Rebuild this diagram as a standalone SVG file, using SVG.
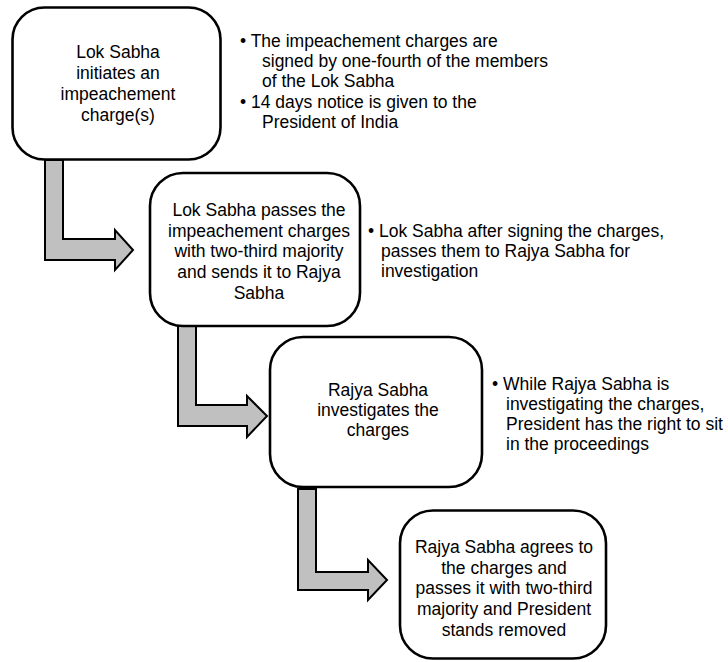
<svg xmlns="http://www.w3.org/2000/svg" width="728" height="662" viewBox="0 0 728 662">
<style>
.box{fill:#fff;stroke:#000;stroke-width:2.6}
.arr{fill:#c0c0c0;stroke:#000;stroke-width:2;stroke-linejoin:miter}
text{font-family:"Liberation Sans",Arial,sans-serif;font-size:17.5px;fill:#000}
.c{text-anchor:middle}
</style>
<rect width="728" height="662" fill="#fff"/>
<g id="connectors">
<polygon class="arr" points="45,160 63,160 63,239 115,239 115,230 133,250 115,270 115,260 45,260"/>
<polygon class="arr" points="178,326 196,326 196,405 247,405 247,396 267,416 247,437 247,426 178,426"/>
<polygon class="arr" points="298,489 316,489 316,572 368,572 368,560 387,580 368,600 368,590 298,590"/>
</g>
<g id="node1">
<rect class="box" x="12.5" y="7.5" width="208" height="152" rx="32"/>
<text class="c" x="118" y="58">Lok Sabha</text>
<text class="c" x="118" y="79">initiates an</text>
<text class="c" x="118" y="100">impeachement</text>
<text class="c" x="118" y="121">charge(s)</text>
</g>
<g id="note1">
<text x="240" y="47">• The impeachement charges are</text>
<text x="262" y="67">signed by one-fourth of the members</text>
<text x="262" y="87">of the Lok Sabha</text>
<text x="240" y="108">• 14 days notice is given to the</text>
<text x="262" y="128">President of India</text>
</g>
<g id="node2">
<rect class="box" x="150" y="173" width="210" height="153" rx="33"/>
<text class="c" x="259" y="216">Lok Sabha passes the</text>
<text class="c" x="259" y="237">impeachement charges</text>
<text class="c" x="259" y="257">with two-third majority</text>
<text class="c" x="259" y="278">and sends it to Rajya</text>
<text class="c" x="259" y="299">Sabha</text>
</g>
<g id="note2">
<text x="368" y="237">• Lok Sabha after signing the charges,</text>
<text x="381" y="257">passes them to Rajya Sabha for</text>
<text x="381" y="277">investigation</text>
</g>
<g id="node3">
<rect class="box" x="270" y="337" width="212" height="150" rx="33"/>
<text class="c" x="378" y="396">Rajya Sabha</text>
<text class="c" x="378" y="416">investigates the</text>
<text class="c" x="378" y="436">charges</text>
</g>
<g id="note3">
<text x="492" y="390">• While Rajya Sabha is</text>
<text x="506" y="410">investigating the charges,</text>
<text x="506" y="430">President has the right to sit</text>
<text x="506" y="450">in the proceedings</text>
</g>
<g id="node4">
<rect class="box" x="400" y="510.5" width="206" height="148" rx="33"/>
<text class="c" x="504" y="553">Rajya Sabha agrees to</text>
<text class="c" x="504" y="574">the charges and</text>
<text class="c" x="504" y="594">passes it with two-third</text>
<text class="c" x="504" y="615">majority and President</text>
<text class="c" x="504" y="636">stands removed</text>
</g>
</svg>
